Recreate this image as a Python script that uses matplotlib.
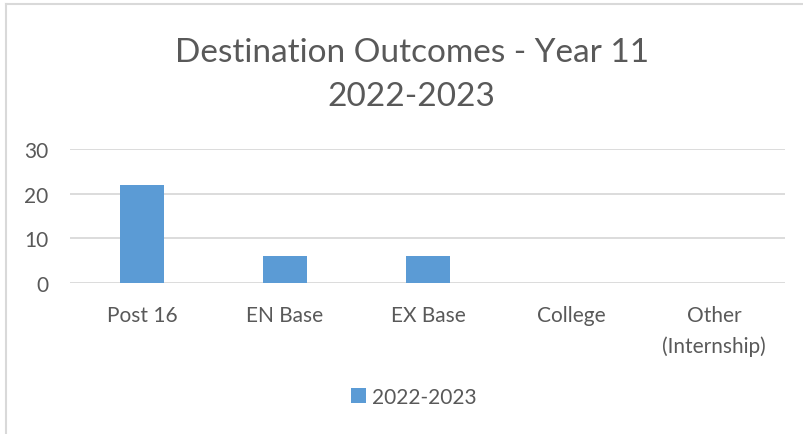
import matplotlib.pyplot as plt
from matplotlib.lines import Line2D

categories = ["Post 16", "EN Base", "EX Base", "College", "Other\n(Internship)"]
values = [22, 6, 6, 0, 0]
series_name = "2022-2023"
title = "Destination Outcomes - Year 11\n2022-2023"

plt.rcParams['font.family'] = ['Lato', 'DejaVu Sans']
txt = '#595959'
blue = '#5B9BD5'

W, H = 804, 435
fig = plt.figure(figsize=(W / 100, H / 100), dpi=100)
ax = fig.add_axes([70.5 / W, 1 - 284 / H, 715 / W, 134 / H])

x = range(len(categories))
ax.bar(x, values, width=0.31, color=blue, label=series_name, zorder=3)
ax.set_xlim(-0.5, len(categories) - 0.5)
ax.set_ylim(0, 30)
ax.set_yticks([0, 10, 20, 30])
ax.set_xticks(list(x))
ax.set_xticklabels(categories, linespacing=1.6)
ax.grid(axis='y', color='#d9d9d9', linewidth=1.3, zorder=0)
for s in ax.spines.values():
    s.set_visible(False)
ax.tick_params(length=0, labelsize=15, labelcolor=txt)
ax.tick_params(axis='y', pad=16)
ax.tick_params(axis='x', pad=16)
for lab in ax.get_xticklabels():
    lab.set_verticalalignment('top')

fig.text(0.512, 1 - 75 / H, title, ha='center', va='center', fontsize=24,
         color=txt, linespacing=1.55)

ax.legend(loc='center', bbox_to_anchor=(0.48, -0.85), frameon=False,
          fontsize=15, labelcolor=txt, handlelength=0.7, handleheight=0.7,
          handletextpad=0.3)

# chart frame
fig.add_artist(Line2D([6 / W, 6 / W], [0, 1 - 5 / H], color='#d9d9d9', lw=1.5))
fig.add_artist(Line2D([6 / W, 1], [1 - 5 / H, 1 - 5 / H], color='#d9d9d9', lw=1.5))

fig.savefig('out.png', dpi=100, facecolor='white')
